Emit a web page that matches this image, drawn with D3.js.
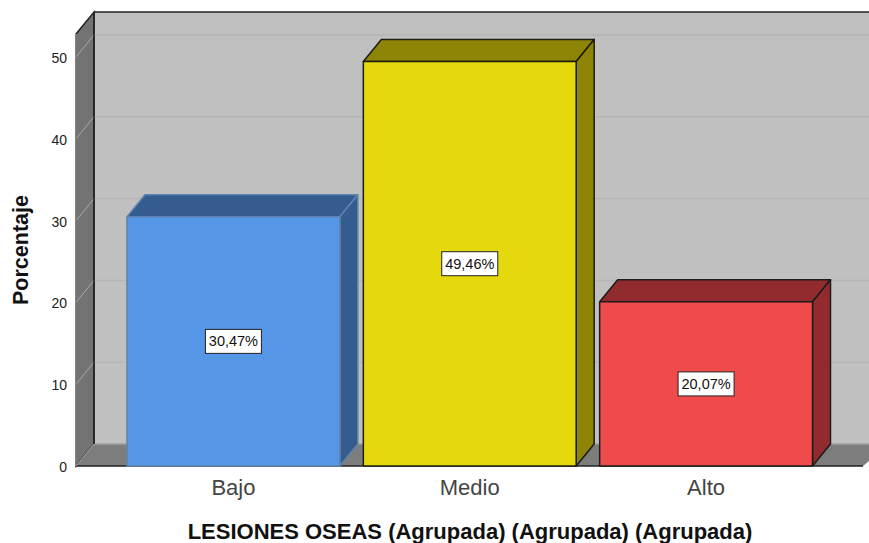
<!DOCTYPE html>
<html>
<head>
<meta charset="utf-8">
<script src="https://cdn.jsdelivr.net/npm/d3@7"></script>
<style>
html, body { margin: 0; padding: 0; background: #fff; overflow: hidden; }
svg { display: block; }
text { font-family: "Liberation Sans", Arial, sans-serif; }
</style>
</head>
<body>
<script>
const categories = ["Bajo", "Medio", "Alto"];
const values = [30.47, 49.46, 20.07];
const valueLabels = ["30,47%", "49,46%", "20,07%"];
const frontColors = ["#5596e6", "#e5d90d", "#ef4b4b"];
const sideColors = ["#345c8e", "#8e8506", "#922b2d"];
const strokeColors = ["#5f82ad", "#1c1c10", "#1c1c1c"];
const yTicks = [0, 10, 20, 30, 40, 50];

const width = 869, height = 543;
const depthX = 18, depthY = -22;
const line = d3.line();

let svg = d3.select("body").append("svg")
    .attr("width", width)
    .attr("height", height);

let x = d3.scaleBand()
    .domain(categories)
    .range([127, 812.5])
    .paddingInner(0.0994);

let y = d3.scaleLinear()
    .domain([0, 50])
    .range([466, 57]);

const floorY = y(0);
const axisLeft = 76, floorRight = 863, topY = 12;

//back wall
svg.append("rect")
    .attr("x", axisLeft + depthX)
    .attr("y", topY)
    .attr("width", width)
    .attr("height", floorY + depthY - topY)
    .attr("fill", "#c0c0c0");

//top edge of the box
svg.append("path")
    .attr("d", line([[axisLeft + depthX, topY], [width, topY]]))
    .attr("stroke", "#222")
    .attr("stroke-width", 1.5)
    .attr("fill", "none");

//left wall
svg.append("path")
    .attr("d", line([[axisLeft, topY - depthY], [axisLeft + depthX, topY], [axisLeft + depthX, floorY + depthY], [axisLeft, floorY]]) + "Z")
    .attr("fill", "#737373")
    .attr("stroke", "#222")
    .attr("stroke-width", 1.5);

//floor
svg.append("path")
    .attr("d", line([[axisLeft, floorY], [axisLeft + depthX, floorY + depthY], [width + 20, floorY + depthY], [floorRight, floorY]]) + "Z")
    .attr("fill", "#7d7d7d");

svg.append("path")
    .attr("d", line([[axisLeft + depthX, floorY + depthY], [width, floorY + depthY]]))
    .attr("stroke", "#a0a0a0")
    .attr("stroke-width", 1.5);

svg.append("path")
    .attr("d", line([[axisLeft, floorY], [floorRight, floorY]]))
    .attr("stroke", "#222")
    .attr("stroke-width", 1.5);

//grid lines, back wall and left wall
svg.append("g").selectAll("path")
    .data(yTicks.slice(1))
    .enter()
    .append("path")
    .attr("d", (d) => line([[axisLeft + depthX, y(d) + depthY], [width, y(d) + depthY]]))
    .attr("stroke", "#b5b5b5")
    .attr("stroke-width", 1.5);

svg.append("g").selectAll("path")
    .data(yTicks)
    .enter()
    .append("path")
    .attr("d", (d) => line([[axisLeft, y(d)], [axisLeft + depthX, y(d) + depthY]]))
    .attr("stroke", "#a8a8a8")
    .attr("stroke-width", 1);

svg.append("path")
    .attr("d", line([[axisLeft + depthX, topY], [axisLeft + depthX, floorY + depthY]]))
    .attr("stroke", "#222")
    .attr("stroke-width", 1.5);

svg.append("path")
    .attr("d", line([[axisLeft, topY - depthY], [axisLeft, floorY]]))
    .attr("stroke", "#8c8c8c")
    .attr("stroke-width", 1.5);

//bars
let bars = svg.append("g").selectAll("g")
    .data(categories)
    .enter()
    .append("g")
    .attr("stroke", (d, i) => strokeColors[i])
    .attr("stroke-width", 1.5)
    .attr("stroke-linejoin", "round");

bars.append("path")
    .attr("fill", (d, i) => sideColors[i])
    .attr("d", function (d, i) {
        let x1 = x(d), x2 = x(d) + x.bandwidth(), top = y(values[i]);
        return line([[x1, top], [x1 + depthX, top + depthY], [x2 + depthX, top + depthY], [x2, top]]) + "Z";
    });

bars.append("path")
    .attr("fill", (d, i) => sideColors[i])
    .attr("d", function (d, i) {
        let x2 = x(d) + x.bandwidth(), top = y(values[i]);
        return line([[x2, top], [x2 + depthX, top + depthY], [x2 + depthX, floorY + depthY], [x2, floorY]]) + "Z";
    });

bars.append("rect")
    .attr("x", (d) => x(d))
    .attr("y", (d, i) => y(values[i]))
    .attr("width", x.bandwidth())
    .attr("height", (d, i) => floorY - y(values[i]))
    .attr("fill", (d, i) => frontColors[i]);

//value labels
let labels = svg.append("g").selectAll("g")
    .data(categories)
    .enter()
    .append("g")
    .attr("transform", (d, i) => `translate(${x(d) + x.bandwidth() / 2}, ${(y(values[i]) + floorY) / 2})`);

labels.append("rect")
    .attr("x", -28)
    .attr("y", -12)
    .attr("width", 56)
    .attr("height", 24)
    .attr("fill", "#fff")
    .attr("stroke", "#222")
    .attr("stroke-width", 1);

labels.append("text")
    .attr("text-anchor", "middle")
    .attr("y", 5)
    .style("font-size", "14.5px")
    .attr("fill", "#111")
    .text((d, i) => valueLabels[i]);

//y tick labels
svg.append("g").selectAll("text")
    .data(yTicks)
    .enter()
    .append("text")
    .attr("x", 67)
    .attr("y", (d) => y(d) + 6)
    .attr("text-anchor", "end")
    .style("font-size", "14px")
    .attr("fill", "#222")
    .text((d) => d);

//x tick labels
svg.append("g").selectAll("text")
    .data(categories)
    .enter()
    .append("text")
    .attr("x", (d) => x(d) + x.bandwidth() / 2)
    .attr("y", 495)
    .attr("text-anchor", "middle")
    .style("font-size", "22px")
    .attr("fill", "#444")
    .text((d) => d);

//axis titles
svg.append("text")
    .attr("x", 470)
    .attr("y", 539)
    .attr("text-anchor", "middle")
    .style("font-size", "22px")
    .style("font-weight", "bold")
    .attr("fill", "#111")
    .text("LESIONES OSEAS (Agrupada) (Agrupada) (Agrupada)");

svg.append("text")
    .attr("transform", "translate(28, 250) rotate(-90)")
    .attr("text-anchor", "middle")
    .style("font-size", "21.5px")
    .style("font-weight", "bold")
    .attr("fill", "#111")
    .text("Porcentaje");
</script>
</body>
</html>
